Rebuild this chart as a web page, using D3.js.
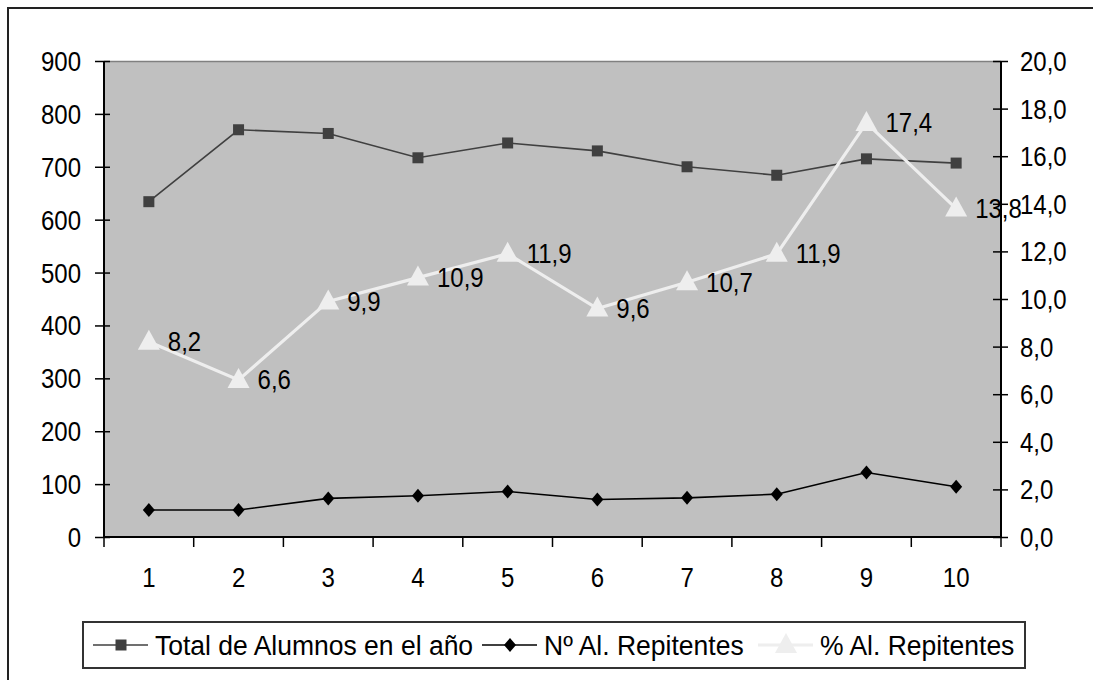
<!DOCTYPE html>
<html>
<head>
<meta charset="utf-8">
<script src="https://cdn.jsdelivr.net/npm/d3@7"></script>
<style>
html,body{margin:0;padding:0;background:#fff;}
svg{display:block;}
text{font-family:"Liberation Sans",Arial,sans-serif;fill:#000;}
</style>
</head>
<body>
<svg id="chart" width="1093" height="680"></svg>
<script>
const categories = ["1","2","3","4","5","6","7","8","9","10"];
const totalAlumnos = [634, 770, 763, 717, 745, 730, 700, 684, 715, 707];
const repitentes = [51, 51, 73, 78, 86, 71, 74, 81, 122, 95];
const pctRepitentes = [8.2, 6.6, 9.9, 10.9, 11.9, 9.6, 10.7, 11.9, 17.4, 13.8];
const leftTicks = [0,100,200,300,400,500,600,700,800,900];
const rightTicks = [0,2,4,6,8,10,12,14,16,18,20];
const seriesNames = ["Total de Alumnos en el año", "Nº Al. Repitentes", "% Al. Repitentes"];

const svg = d3.select("#chart");
const FS = 24, SY = 1.13;
const fmt = v => v.toFixed(1).replace(".", ",");

// outer frame
svg.append("rect").attr("x",8).attr("y",8).attr("width",1200).attr("height",800)
  .attr("fill","#fff").attr("stroke","#222").attr("stroke-width",2);

const L = 104, R = 1001, T = 61, B = 537;
const x = d3.scaleBand().domain(categories).range([L, R]);
const cx = d => x(d) + x.bandwidth()/2;
const yL = d3.scaleLinear().domain([0,900]).range([B,T]);
const yR = d3.scaleLinear().domain([0,20]).range([B,T]);

// plot area
svg.append("rect").attr("x",L).attr("y",T).attr("width",R-L).attr("height",B-T)
  .attr("fill","#c0c0c0");
svg.append("line").attr("x1",L).attr("x2",R).attr("y1",T+0.5).attr("y2",T+0.5)
  .attr("stroke","#808080").attr("stroke-width",1.5);

function styleText(sel, fs){
  sel.attr("font-size",fs||FS).attr("font-family","Liberation Sans, Arial, sans-serif").attr("fill","#000");
}

// left axis
const gL = svg.append("g").attr("transform",`translate(${L},0)`)
  .call(d3.axisLeft(yL).tickValues(leftTicks).tickSize(9).tickPadding(23).tickFormat(d3.format("d")));
gL.select(".domain").attr("stroke","#000").attr("stroke-width",2).attr("d",`M0,${T}V${B}`);
gL.selectAll(".tick line").attr("x1",6).attr("x2",-9).attr("stroke","#000").attr("stroke-width",1.5);
gL.selectAll(".tick text").call(styleText).attr("x",-23).attr("dy","0.35em")
  .attr("transform",`scale(1,${SY})`);

// right axis
const gR = svg.append("g").attr("transform",`translate(${R},0)`)
  .call(d3.axisRight(yR).tickValues(rightTicks).tickSize(7).tickPadding(19).tickFormat(fmt));
gR.select(".domain").attr("stroke","#000").attr("stroke-width",2).attr("d",`M0,${T}V${B}`);
gR.selectAll(".tick line").attr("x1",-8).attr("x2",7).attr("stroke","#000").attr("stroke-width",1.5);
gR.selectAll(".tick text").call(styleText).attr("x",19).attr("dy","0.35em")
  .attr("transform",`scale(1,${SY})`);

// bottom axis
const gB = svg.append("g").attr("transform",`translate(0,${B})`)
  .call(d3.axisBottom(x).tickSize(0).tickPadding(30));
gB.select(".domain").attr("stroke","#000").attr("stroke-width",2).attr("d",`M${L},0H${R}`);
gB.selectAll(".tick text").call(styleText).attr("dy","0.35em").attr("y",35.5)
  .attr("transform",`scale(1,${SY})`);
const bounds = categories.map(c => x(c)).concat([x.range()[1]]);
gB.selectAll("line.bt").data(bounds).join("line").attr("class","bt")
  .attr("x1",d=>d).attr("x2",d=>d).attr("y1",0).attr("y2",10)
  .attr("stroke","#000").attr("stroke-width",1.5);

// series: total
const lineL = d3.line().x((d,i)=>cx(categories[i])).y(d=>yL(d));
const lineR = d3.line().x((d,i)=>cx(categories[i])).y(d=>yR(d));

svg.append("path").attr("d",lineL(totalAlumnos)).attr("fill","none")
  .attr("stroke","#404040").attr("stroke-width",1.6);
svg.selectAll("rect.sq").data(totalAlumnos).join("rect").attr("class","sq")
  .attr("x",(d,i)=>cx(categories[i])-5.5).attr("y",d=>yL(d)-5.5)
  .attr("width",11).attr("height",11).attr("fill","#404040");

// repitentes
svg.append("path").attr("d",lineL(repitentes)).attr("fill","none")
  .attr("stroke","#000").attr("stroke-width",1.6);
const diamond = "M0,-7L6,0L0,7L-6,0Z";
svg.selectAll("path.dm").data(repitentes).join("path").attr("class","dm")
  .attr("d",diamond).attr("transform",(d,i)=>`translate(${cx(categories[i])},${yL(d)})`)
  .attr("fill","#000");

// percent
svg.append("path").attr("d",lineR(pctRepitentes)).attr("fill","none")
  .attr("stroke","#eeeeee").attr("stroke-width",3.2);
const tri = "M0,-12L11,8L-11,8Z";
svg.selectAll("path.tr").data(pctRepitentes).join("path").attr("class","tr")
  .attr("d",tri).attr("transform",(d,i)=>`translate(${cx(categories[i])},${yR(d)})`)
  .attr("fill","#eeeeee");
svg.selectAll("text.lbl").data(pctRepitentes).join("text").attr("class","lbl")
  .call(styleText)
  .attr("transform",(d,i)=>`translate(${cx(categories[i])+19},${yR(d)}) scale(1,${SY})`)
  .attr("dy","0.35em").text(d=>fmt(d));

// legend
const lg = svg.append("g");
lg.append("rect").attr("x",83).attr("y",622).attr("width",942).attr("height",46)
  .attr("fill","#fff").attr("stroke","#333").attr("stroke-width",2);
const ly = 645;
const legendX = [93, 482, 758];
const legendColors = ["#404040","#000","#eeeeee"];
seriesNames.forEach((name,i)=>{
  const x0 = legendX[i];
  lg.append("line").attr("x1",x0).attr("x2",x0+55).attr("y1",ly).attr("y2",ly)
    .attr("stroke",legendColors[i]).attr("stroke-width", i===2?3:1.6);
  const m = x0+28;
  if(i===0) lg.append("rect").attr("x",m-5.5).attr("y",ly-5.5).attr("width",11).attr("height",11).attr("fill","#404040");
  if(i===1) lg.append("path").attr("d",diamond).attr("transform",`translate(${m},${ly})`).attr("fill","#000");
  if(i===2) lg.append("path").attr("d",tri).attr("transform",`translate(${m},${ly})`).attr("fill","#eeeeee");
  lg.append("text").call(styleText, 26.5).attr("transform",`translate(${x0+62},${ly}) scale(1,1.03)`)
    .attr("dy","0.35em").text(name);
});
</script>
</body>
</html>
